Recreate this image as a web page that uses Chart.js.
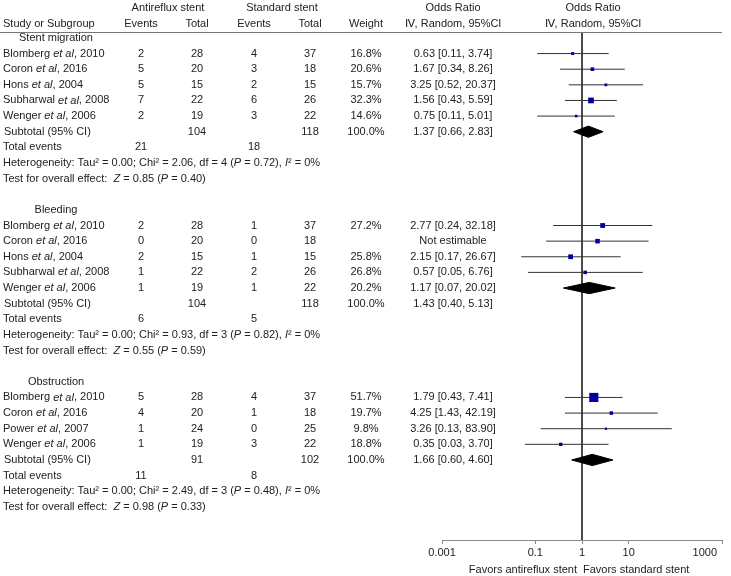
<!DOCTYPE html>
<html>
<head>
<meta charset="utf-8">
<script src="https://cdn.jsdelivr.net/npm/chart.js@4"></script>
<style>
  html, body { margin: 0; padding: 0; background: #fff; }
  canvas { display: block; }
</style>
</head>
<body>
<canvas id="forest" width="731" height="576"></canvas>
<script>
// data
const groupNames = ['Stent migration', 'Bleeding', 'Obstruction'];
const groupSizes = [5, 5, 4];
const studyNames = [
    'Blomberg et al, 2010', 'Coron et al, 2016', 'Hons et al, 2004', 'Subharwal et al, 2008', 'Wenger et al, 2006',
    'Blomberg et al, 2010', 'Coron et al, 2016', 'Hons et al, 2004', 'Subharwal et al, 2008', 'Wenger et al, 2006',
    'Blomberg et al, 2010', 'Coron et al, 2016', 'Power et al, 2007', 'Wenger et al, 2006'
];
const antiEvents = [2, 5, 5, 7, 2, 2, 0, 2, 1, 1, 5, 4, 1, 1];
const antiTotal = [28, 20, 15, 22, 19, 28, 20, 15, 22, 19, 28, 20, 24, 19];
const stdEvents = [4, 3, 2, 6, 3, 1, 0, 1, 2, 1, 4, 1, 0, 3];
const stdTotal = [37, 18, 15, 26, 22, 37, 18, 15, 26, 22, 37, 18, 25, 22];
const weights = [16.8, 20.6, 15.7, 32.3, 14.6, 27.2, null, 25.8, 26.8, 20.2, 51.7, 19.7, 9.8, 18.8];
const oddsRatio = [0.63, 1.67, 3.25, 1.56, 0.75, 2.77, null, 2.15, 0.57, 1.17, 1.79, 4.25, 3.26, 0.35];
const ciLow = [0.11, 0.34, 0.52, 0.43, 0.11, 0.24, null, 0.17, 0.05, 0.07, 0.43, 1.43, 0.13, 0.03];
const ciHigh = [3.74, 8.26, 20.37, 5.59, 5.01, 32.18, null, 26.67, 6.76, 20.02, 7.41, 42.19, 83.90, 3.70];

const subAntiTotal = [104, 104, 91];
const subStdTotal = [118, 118, 102];
const subOR = [1.37, 1.43, 1.66];
const subLow = [0.66, 0.40, 0.60];
const subHigh = [2.83, 5.13, 4.60];
const totalAntiEvents = [21, 6, 11];
const totalStdEvents = [18, 5, 8];
const tau2 = [0.00, 0.00, 0.00];
const chi2 = [2.06, 0.93, 2.49];
const hetDf = [4, 3, 3];
const hetP = [0.72, 0.82, 0.48];
const iSquared = [0, 0, 0];
const zValue = [0.85, 0.55, 0.98];
const zP = [0.40, 0.59, 0.33];

const xTicks = [0.001, 0.1, 1, 10, 1000];

// the drawn whiskers don't agree with two printed lower limits
const drawnLow = ciLow.slice();
drawnLow[11] = 0.43;
drawnLow[13] = 0.06;

const FONT = '11px "Liberation Sans", Arial, sans-serif';
const TXT = '#222';

// row layout: header, studies, subtotal, total events, heterogeneity, test, blank
const groupStart = [];
let r0 = 0;
groupSizes.forEach(n => { groupStart.push(r0); r0 += n + 6; });

// the figure stacks estimable studies one after another, then the diamond
const ciSets = [];
const squarePts = [];
const squareRadius = [];
const diamondSets = [];
let idx = 0;
groupSizes.forEach((n, g) => {
    let plotRow = groupStart[g] + 1;
    for (let i = 0; i < n; i++, idx++) {
        if (oddsRatio[idx] == null) continue;
        ciSets.push({
            data: [{ x: drawnLow[idx], y: plotRow }, { x: ciHigh[idx], y: plotRow }],
            showLine: true, borderColor: '#333', borderWidth: 1, pointRadius: 0, order: 2
        });
        squarePts.push({ x: oddsRatio[idx], y: plotRow });
        squareRadius.push(Math.max(1.6, weights[idx] * 0.125));
        plotRow++;
    }
    const h = 0.36;
    diamondSets.push({
        data: [
            { x: subLow[g], y: plotRow }, { x: subOR[g], y: plotRow - h },
            { x: subHigh[g], y: plotRow }, { x: subOR[g], y: plotRow + h },
            { x: subLow[g], y: plotRow }
        ],
        showLine: true, fill: 'shape', backgroundColor: '#000', borderColor: '#000',
        borderWidth: 1, pointRadius: 0, order: 1
    });
});

function richText(ctx, parts, x, y) {
    let cx = x;
    parts.forEach(([t, it]) => {
        ctx.font = (it ? 'italic ' : '') + FONT;
        ctx.fillText(t, cx, y);
        cx += ctx.measureText(t).width;
    });
    ctx.font = FONT;
}

function nameParts(name) {
    const p = name.split('et al');
    return [[p[0], false], ['et al', true], [p[1], false]];
}

const fmt = v => v.toFixed(2);
const colX = { ev1: 141, tot1: 197, ev2: 254, tot2: 310, weight: 366, or: 453, plot: 593 };

const tablePlugin = {
    id: 'tablePlugin',
    afterDraw(chart) {
        const ctx = chart.ctx;
        const ys = chart.scales.y;
        const xs = chart.scales.x;
        const rowY = r => ys.getPixelForValue(r);
        ctx.save();
        ctx.fillStyle = TXT;
        ctx.font = FONT;
        ctx.textBaseline = 'middle';

        // column headers
        ctx.textAlign = 'center';
        ctx.fillText('Antireflux stent', 168, 8);
        ctx.fillText('Standard stent', 282, 8);
        ctx.fillText('Odds Ratio', colX.or, 8);
        ctx.fillText('Odds Ratio', colX.plot, 8);
        ctx.fillText('Events', colX.ev1, 24);
        ctx.fillText('Total', colX.tot1, 24);
        ctx.fillText('Events', colX.ev2, 24);
        ctx.fillText('Total', colX.tot2, 24);
        ctx.fillText('Weight', colX.weight, 24);
        ctx.fillText('\u2163, Random, 95%CI', colX.or, 24);
        ctx.fillText('\u2163, Random, 95%CI', colX.plot, 24);
        ctx.textAlign = 'left';
        ctx.fillText('Study or Subgroup', 3, 24);

        ctx.strokeStyle = '#777';
        ctx.lineWidth = 1;
        ctx.beginPath();
        ctx.moveTo(0, 32.5);
        ctx.lineTo(xs.right, 32.5);
        ctx.stroke();

        let k = 0;
        groupSizes.forEach((n, g) => {
            const s = groupStart[g];
            ctx.textAlign = 'center';
            ctx.fillText(groupNames[g], 56, rowY(s));
            for (let i = 0; i < n; i++, k++) {
                const y = rowY(s + 1 + i);
                ctx.textAlign = 'left';
                richText(ctx, nameParts(studyNames[k]), 3, y);
                ctx.textAlign = 'center';
                ctx.fillText(antiEvents[k], colX.ev1, y);
                ctx.fillText(antiTotal[k], colX.tot1, y);
                ctx.fillText(stdEvents[k], colX.ev2, y);
                ctx.fillText(stdTotal[k], colX.tot2, y);
                if (oddsRatio[k] == null) {
                    ctx.fillText('Not estimable', colX.or, y);
                } else {
                    ctx.fillText(weights[k].toFixed(1) + '%', colX.weight, y);
                    ctx.fillText(fmt(oddsRatio[k]) + ' [' + fmt(ciLow[k]) + ', ' + fmt(ciHigh[k]) + ']', colX.or, y);
                }
            }
            let y = rowY(s + n + 1);
            ctx.textAlign = 'left';
            ctx.fillText('Subtotal (95% CI)', 4, y);
            ctx.textAlign = 'center';
            ctx.fillText(subAntiTotal[g], colX.tot1, y);
            ctx.fillText(subStdTotal[g], colX.tot2, y);
            ctx.fillText('100.0%', colX.weight, y);
            ctx.fillText(fmt(subOR[g]) + ' [' + fmt(subLow[g]) + ', ' + fmt(subHigh[g]) + ']', colX.or, y);

            y = rowY(s + n + 2);
            ctx.textAlign = 'left';
            ctx.fillText('Total events', 3, y);
            ctx.textAlign = 'center';
            ctx.fillText(totalAntiEvents[g], colX.ev1, y);
            ctx.fillText(totalStdEvents[g], colX.ev2, y);

            ctx.textAlign = 'left';
            richText(ctx, [
                ['Heterogeneity: Tau\u00b2 = ' + fmt(tau2[g]) + '; Chi\u00b2 = ' + fmt(chi2[g]) + ', df = ' + hetDf[g] + ' (', false],
                ['P', true], [' = ' + fmt(hetP[g]) + '), ', false], ['I', true], ['\u00b2 = ' + iSquared[g] + '%', false]
            ], 3, rowY(s + n + 3));
            richText(ctx, [
                ['Test for overall effect:  ', false], ['Z', true], [' = ' + fmt(zValue[g]) + ' (', false],
                ['P', true], [' = ' + fmt(zP[g]) + ')', false]
            ], 3, rowY(s + n + 4));
        });

        // axis labels: centred on the tick, kept inside the plot's right edge
        ctx.textAlign = 'left';
        xTicks.forEach(v => {
            const label = String(v);
            const w = ctx.measureText(label).width;
            let left = xs.getPixelForValue(v) - w / 2;
            left = Math.min(left, xs.right - 5 - w);
            ctx.fillText(label, left, 553);
        });

        // direction labels under the axis
        const x1 = xs.getPixelForValue(1);
        ctx.textAlign = 'right';
        ctx.fillText('Favors antireflux stent', x1 - 5, 570);
        ctx.textAlign = 'left';
        ctx.fillText('Favors standard stent', x1 + 1, 570);
        ctx.restore();
    }
};

const ctx = document.getElementById('forest').getContext('2d');
new Chart(ctx, {
    type: 'scatter',
    data: {
        datasets: [
            {
                data: [{ x: 1, y: -0.38 }, { x: 1, y: 32.12 }],
                showLine: true, borderColor: '#333', borderWidth: 1, pointRadius: 0, order: 3
            },
            ...ciSets,
            ...diamondSets,
            {
                data: squarePts,
                pointStyle: 'rect',
                pointRadius: squareRadius,
                backgroundColor: '#0000a0',
                borderColor: '#0000a0',
                borderWidth: 0,
                order: 0
            }
        ]
    },
    options: {
        responsive: false,
        animation: false,
        devicePixelRatio: 1,
        layout: { padding: { left: 442, right: 9, top: 32, bottom: 0 } },
        plugins: { legend: { display: false }, tooltip: { enabled: false } },
        scales: {
            x: {
                type: 'logarithmic',
                min: 0.001,
                max: 1000,
                afterBuildTicks: scale => { scale.ticks = xTicks.map(v => ({ value: v })); },
                afterFit: scale => {
                    scale.height = 36;
                    scale.paddingLeft = 0;
                    scale.paddingRight = 0;
                },
                border: { color: '#888', width: 1 },
                grid: { drawOnChartArea: false, drawTicks: true, tickLength: 4, color: '#888' },
                ticks: { display: false }
            },
            y: {
                type: 'linear',
                display: false,
                reverse: true,
                min: -0.38,
                max: 32.12
            }
        }
    },
    plugins: [tablePlugin]
});
</script>
</body>
</html>
